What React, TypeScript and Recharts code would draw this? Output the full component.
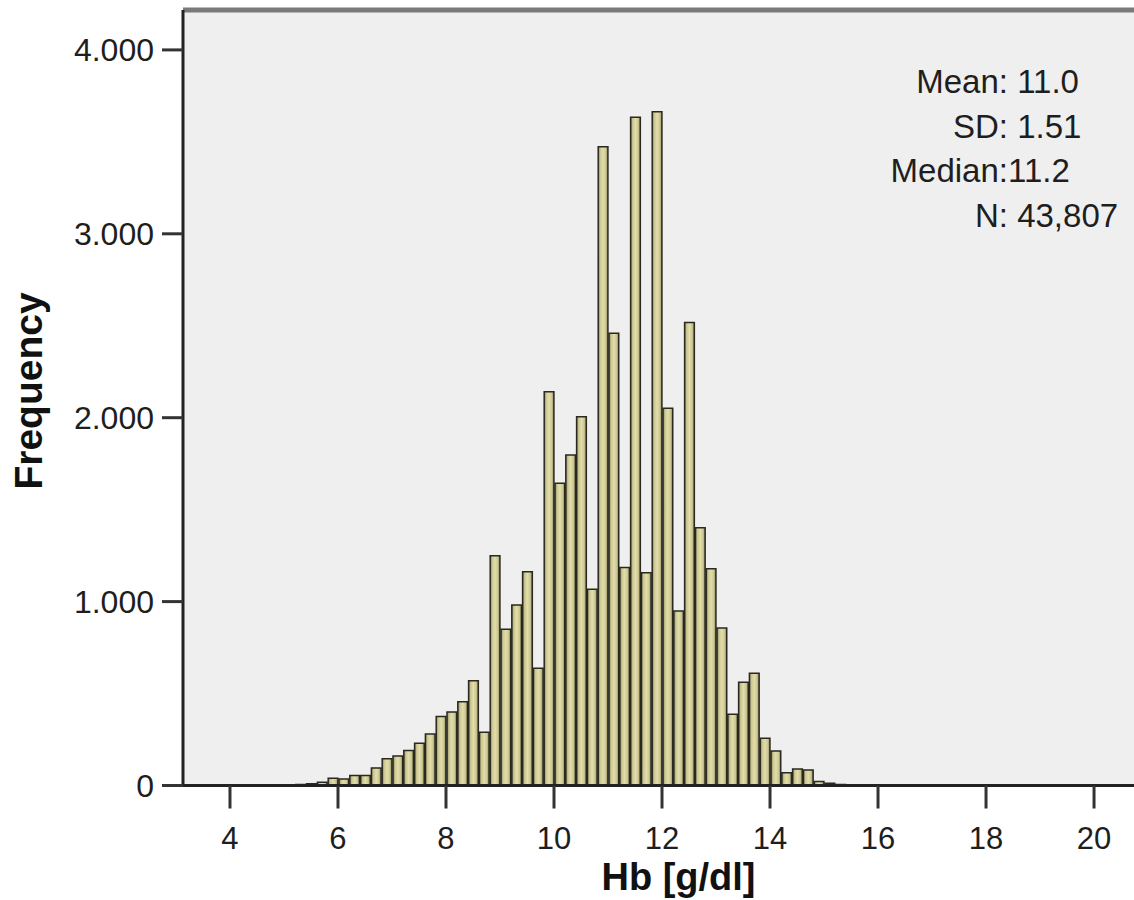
import { ComposedChart, Bar, XAxis, YAxis, CartesianGrid, ReferenceLine } from 'recharts'

// Hb histogram, bins of 0.2 g/dl (left edge of each bin)
const binStarts = [
  5.0, 5.2, 5.4, 5.6, 5.8, 6.0, 6.2, 6.4, 6.6, 6.8,
  7.0, 7.2, 7.4, 7.6, 7.8, 8.0, 8.2, 8.4, 8.6, 8.8,
  9.0, 9.2, 9.4, 9.6, 9.8, 10.0, 10.2, 10.4, 10.6, 10.8,
  11.0, 11.2, 11.4, 11.6, 11.8, 12.0, 12.2, 12.4, 12.6, 12.8,
  13.0, 13.2, 13.4, 13.6, 13.8, 14.0, 14.2, 14.4, 14.6, 14.8,
  15.0, 15.2, 15.4,
]
const frequencies = [
  3, 5, 10, 18, 40, 35, 55, 55, 95, 145,
  160, 190, 230, 280, 375, 400, 455, 570, 290, 1250,
  849, 981, 1163, 637, 2141, 1643, 1797, 2005, 1067, 3474,
  2459, 1186, 3634, 1157, 3664, 2051, 949, 2518, 1402, 1178,
  857, 387, 561, 610, 257, 188, 70, 90, 84, 22,
  12, 5, 2,
]
const xTicks = [4, 6, 8, 10, 12, 14, 16, 18, 20]
const yTicks = [0, 1000, 2000, 3000, 4000]
const statLines = ['Mean: 11.0', 'SD: 1.51', 'Median:11.2', 'N: 43,807']

const BIN_WIDTH = 0.2
const X_MIN = 3.13
const X_MAX = 20.74
const Y_MAX = 4217

const W = 1134
const H = 900
const PLOT_LEFT = 183
const FONT = '"Liberation Sans", Arial, Helvetica, sans-serif'
const TEXT = '#1e1e1e'

// one bin in pixels, so neighbouring bars touch like in the SPSS output
const barPx = ((W - PLOT_LEFT) * BIN_WIDTH) / (X_MAX - X_MIN)

const data = binStarts.map((start, i) => ({
  mid: Math.round((start + BIN_WIDTH / 2) * 100) / 100,
  count: frequencies[i],
}))

// 4000 -> "4.000"
const fmtThousands = (v: number) => String(v).replace(/\B(?=(\d{3})+(?!\d))/g, '.')

export default function App() {
  return (
    <div
      style={{
        position: 'absolute',
        left: 0,
        top: 0,
        width: W,
        height: H,
        overflow: 'hidden',
        background: '#fff',
        fontFamily: FONT,
      }}
    >
      <ComposedChart
        width={W}
        height={H}
        data={data}
        margin={{ top: 10, right: 0, bottom: 0, left: 0 }}
        barCategoryGap={0}
        barGap={0}
      >
        <defs>
          <linearGradient id="hbBar" x1="0" y1="0" x2="1" y2="0">
            <stop offset="0%" stopColor="#85805c" />
            <stop offset="22%" stopColor="#cdc893" />
            <stop offset="50%" stopColor="#e2dea9" />
            <stop offset="78%" stopColor="#cdc893" />
            <stop offset="100%" stopColor="#85805c" />
          </linearGradient>
        </defs>
        <CartesianGrid horizontal={false} vertical={false} fill="#efefef" />
        <XAxis
          type="number"
          dataKey="mid"
          domain={[X_MIN, X_MAX]}
          allowDataOverflow
          ticks={xTicks}
          interval={0}
          height={H - 785.5}
          tickSize={23}
          tickMargin={18}
          axisLine={{ stroke: '#222', strokeWidth: 3 }}
          tickLine={{ stroke: '#333', strokeWidth: 3 }}
          tick={{ fill: TEXT, fontSize: 31 }}
          label={{
            value: 'Hb [g/dl]',
            position: 'insideBottom',
            offset: 10,
            dx: 20,
            style: { fontSize: 38, fontWeight: 'bold', fill: '#111' },
          }}
        />
        <YAxis
          type="number"
          domain={[0, Y_MAX]}
          allowDataOverflow
          ticks={yTicks}
          interval={0}
          width={PLOT_LEFT}
          tickSize={21}
          tickMargin={8}
          tickFormatter={fmtThousands}
          axisLine={{ stroke: '#222', strokeWidth: 3 }}
          tickLine={{ stroke: '#333', strokeWidth: 3 }}
          tick={{ fill: TEXT, fontSize: 32 }}
        />
        <ReferenceLine y={Y_MAX} stroke="#7a7a7a" strokeWidth={5} />
        <Bar
          dataKey="count"
          barSize={barPx}
          fill="url(#hbBar)"
          stroke="#2a2920"
          strokeWidth={1.5}
          isAnimationActive={false}
        />
      </ComposedChart>

      {/* axis title and the statistics box */}
      <svg
        width={W}
        height={H}
        style={{ position: 'absolute', left: 0, top: 0, pointerEvents: 'none' }}
      >
        <text
          transform="translate(42,391) rotate(-90)"
          textAnchor="middle"
          fontSize={39}
          fontWeight="bold"
          fill="#111"
        >
          Frequency
        </text>
        {statLines.map((line, i) => {
          const cut = line.indexOf(':') + 1
          const y = 93 + i * 44.7
          return (
            <g key={line} fontSize={33} fill={TEXT}>
              <text x={1008} y={y} textAnchor="end">
                {line.slice(0, cut)}
              </text>
              <text x={1008} y={y} textAnchor="start" style={{ whiteSpace: 'pre' }}>
                {line.slice(cut)}
              </text>
            </g>
          )
        })}
      </svg>
    </div>
  )
}
